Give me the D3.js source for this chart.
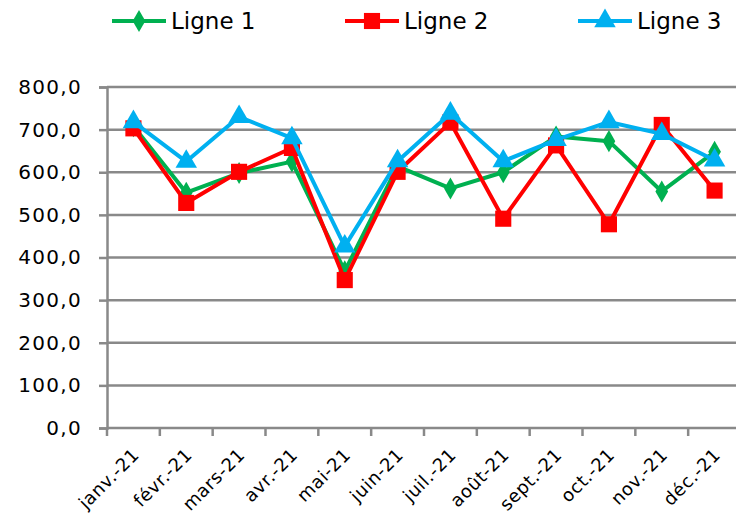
<!DOCTYPE html>
<html>
<head>
<meta charset="utf-8">
<script src="https://cdn.jsdelivr.net/npm/d3@7"></script>
<style>
  body { margin: 0; background: #fff; }
  svg { display: block; font-family: "DejaVu Sans", sans-serif; }
</style>
</head>
<body>
<div id="chart"></div>
<script>
// Data
const months = ["janv.-21", "févr.-21", "mars-21", "avr.-21", "mai-21", "juin-21",
                "juil.-21", "août-21", "sept.-21", "oct.-21", "nov.-21", "déc.-21"];
const ligne1 = [708, 552, 598, 625, 368, 614, 562, 600, 684, 673, 555, 648];
const ligne2 = [703, 528, 601, 657, 347, 601, 717, 491, 663, 478, 711, 557];
const ligne3 = [718, 625, 730, 680, 426, 626, 738, 626, 676, 718, 690, 628];
const yTicks = [0, 100, 200, 300, 400, 500, 600, 700, 800];

const series = [
    {name: "Ligne 1", values: ligne1, color: "#00B050", symbol: d3.symbolDiamond, size: 140},
    {name: "Ligne 2", values: ligne2, color: "#FF0000", symbol: d3.symbolSquare, size: 260},
    {name: "Ligne 3", values: ligne3, color: "#00B0F0", symbol: d3.symbolTriangle, size: 200}
];

const width = 736, height = 515;
const gridColor = "#898989";

const svg = d3.select("#chart").append("svg")
    .attr("width", width)
    .attr("height", height);

// Scales
const x = d3.scaleBand().domain(months).range([107, 741]);
const y = d3.scaleLinear().domain([0, 800]).range([428, 87]);

// Gridlines
svg.append("g")
    .selectAll("line")
    .data(yTicks.filter(d => d > 0))
    .enter().append("line")
    .attr("x1", 107).attr("x2", 741)
    .attr("y1", d => y(d)).attr("y2", d => y(d))
    .attr("stroke", gridColor)
    .attr("stroke-width", 2.5);

// Y axis
const yAxis = svg.append("g")
    .attr("transform", "translate(107,0)")
    .call(d3.axisLeft(y).tickValues(yTicks).tickSize(8).tickPadding(17)
        .tickFormat(d => d3.format(".1f")(d).replace(".", ",")));
yAxis.select(".domain").attr("stroke", gridColor).attr("stroke-width", 2.5);
yAxis.selectAll(".tick line").attr("stroke", gridColor).attr("stroke-width", 2.5);
yAxis.selectAll("text").attr("font-size", 20).attr("fill", "#000")
    .attr("font-family", "DejaVu Sans")
    .attr("letter-spacing", 1.3);

// X axis (ticks between categories)
const xAxis = svg.append("g")
    .attr("transform", "translate(0,428)");
xAxis.append("line")
    .attr("x1", 107).attr("x2", 741)
    .attr("stroke", gridColor).attr("stroke-width", 2.5);
xAxis.selectAll(".xtick")
    .data(months)
    .enter().append("line")
    .attr("class", "xtick")
    .attr("x1", d => x(d)).attr("x2", d => x(d))
    .attr("y1", 0).attr("y2", 8)
    .attr("stroke", gridColor).attr("stroke-width", 2.5);
xAxis.selectAll(".xlabel")
    .data(months)
    .enter().append("text")
    .attr("class", "xlabel")
    .attr("transform", d => "translate(" + (x(d) + x.bandwidth() / 2 - 2) + ",19) rotate(-45)")
    .attr("text-anchor", "end")
    .attr("dy", "0.7em")
    .attr("font-size", 18)
    .attr("letter-spacing", 0.6)
    .attr("fill", "#000")
    .text(d => d);

// Lines and markers
const line = d3.line()
    .x((d, i) => x(months[i]) + x.bandwidth() / 2)
    .y(d => y(d));

series.forEach(s => {
    const g = svg.append("g");
    g.append("path")
        .datum(s.values)
        .attr("fill", "none")
        .attr("stroke", s.color)
        .attr("stroke-width", 4)
        .attr("stroke-linejoin", "round")
        .attr("d", line);
    g.selectAll("path.marker")
        .data(s.values)
        .enter().append("path")
        .attr("class", "marker")
        .attr("d", d3.symbol().type(s.symbol).size(s.size))
        .attr("transform", (d, i) => "translate(" + (x(months[i]) + x.bandwidth() / 2) + "," + y(d) + ")")
        .attr("fill", s.color);
});

// Legend
const legendX = [112, 345, 578];
const legend = svg.append("g");
series.forEach((s, i) => {
    const lg = legend.append("g").attr("transform", "translate(" + legendX[i] + ",21)");
    lg.append("line")
        .attr("x1", 0).attr("x2", 54)
        .attr("stroke", s.color).attr("stroke-width", 4);
    lg.append("path")
        .attr("d", d3.symbol().type(s.symbol).size(s.size))
        .attr("transform", "translate(27,0)")
        .attr("fill", s.color);
    lg.append("text")
        .attr("x", 59)
        .attr("dy", "0.35em")
        .attr("font-size", 23)
        .attr("fill", "#000")
        .text(s.name);
});
</script>
</body>
</html>
